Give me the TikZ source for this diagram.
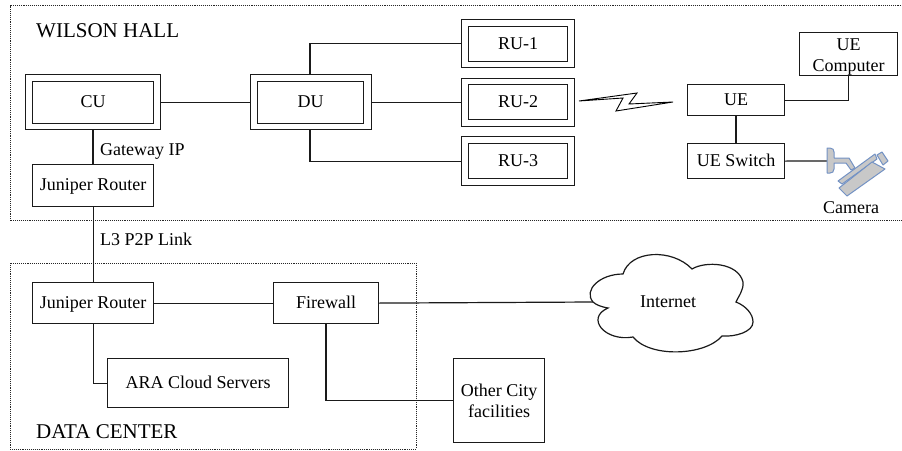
\documentclass[tikz,border=0pt]{standalone}
\usepackage{fontspec}
\setmainfont{Liberation Serif}
\definecolor{camfill}{HTML}{C8C8C8}
\definecolor{camline}{HTML}{7392C4}
\definecolor{linegray}{HTML}{1A1A1A}
\tikzset{
  mbox/.style={draw=linegray,line width=1.2pt,inner sep=0pt,align=center,font=\fontsize{18}{21}\selectfont,fill=white},
  box/.style={mbox,text height=11.5pt,text depth=0.5pt},
  outerbox/.style={draw=linegray,line width=1.2pt,inner sep=0pt,fill=white},
  link/.style={draw=linegray,line width=1.2pt},
  zone/.style={draw=black!85,line width=0.9pt,densely dotted},
  lab/.style={inner sep=0pt,font=\fontsize{18}{21}\selectfont,anchor=base west},
  zonelab/.style={inner sep=0pt,font=\fontsize{21}{24}\selectfont,anchor=base west},
  cam/.style={draw=camline,fill=camfill,line width=1pt,line join=round},
}
\newcommand{\bx}[7][box]{\node[#1,minimum width=#4pt-#2pt,minimum height=#5pt-#3pt,anchor=north west] (#6) at (#2,#3) {#7};}
\begin{document}
\begin{tikzpicture}[x=1pt,y=-1pt]
\useasboundingbox (0,0) rectangle (902,450);
\fill[white] (0,0) rectangle (902,450);
% zones
\draw[zone] (905,5.5) -- (10,5.5) -- (10,220.5) -- (905,220.5);
\draw[zone] (10,263) rectangle (416,449);
% outer frames
\bx[outerbox]{25}{74}{160}{129}{cuo}{}
\bx[outerbox]{250}{74}{371}{129}{duo}{}
\bx[outerbox]{461}{19}{574}{67}{ruao}{}
\bx[outerbox]{461}{78}{574}{126}{rubo}{}
\bx[outerbox]{461}{136}{574}{185}{ruco}{}
% inner boxes
\bx{32}{81}{153}{122.5}{cu}{CU}
\bx{257}{81}{363}{122.5}{du}{DU}
\bx{468}{25.5}{567}{60.5}{rua}{RU-1}
\bx{468}{84}{567}{119}{rub}{RU-2}
\bx{468}{143}{567}{178}{ruc}{RU-3}
\bx{687}{84}{784}{115}{ue}{UE}
\bx{687}{143}{784}{178}{uesw}{UE Switch}
\bx[mbox]{799}{32}{897}{74}{uec}{\rule{0pt}{18pt}UE\\Computer}
\bx{32}{164}{153}{205.5}{jra}{Juniper Router}
\bx{32}{282}{153}{323}{jrb}{Juniper Router}
\bx{273}{282}{378}{323}{fw}{Firewall}
\bx{107}{358}{288}{407}{ara}{ARA Cloud Servers}
\bx[mbox]{453}{358}{544}{442}{oth}{Other City\\facilities}
% cloud
\draw[link,fill=white] (593,302)
 .. controls (583,290) and (600,274) .. (623,274)
 .. controls (630,250) and (672,248) .. (692,269)
 .. controls (705,261) and (738,262) .. (743,282)
 .. controls (744,290) and (738,297) .. (736,302)
 .. controls (746,306) and (753,314) .. (753,322)
 .. controls (753,332) and (735,337) .. (722,336)
 .. controls (705,356) and (650,358) .. (633,337)
 .. controls (605,342) and (585,318) .. (608,308)
 .. controls (602,307) and (596,305) .. (593,302) -- cycle;
\node[inner sep=0pt,font=\fontsize{18}{21}\selectfont,anchor=base] (inet) at (668,307) {Internet};
\coordinate (cloudw) at (593,302);
% connectors
\draw[link] (cuo) -- (duo);
\draw[link,line width=1.6pt] (cuo.south -| cu) -- (jra);
\draw[link] (jra) -- (jrb);
\draw[link] (duo.north -| 310,0) |- (ruao.west);
\draw[link] (duo.east) -- (duo.east -| rubo.west);
\draw[link] (duo.south -| 310,0) |- (ruco.west);
\draw[link] (ue.east) -| (uec.south);
\draw[link,line width=1.8pt] (ue) -- (uesw);
\coordinate (cammount) at (828,161);
\draw[link] (uesw.east) -- (cammount);
\draw[link] (jrb) -- (fw);
\draw[link] (fw.east) -- (cloudw);
\draw[link] (jrb.south) |- (ara.west);
\draw[link] (fw.south -| 326,0) |- (oth.west);
% lightning
\draw[black,line width=0.9pt,fill=white,line join=miter] (579,101) -- (637,93) -- (629,104) -- (673,102) -- (616,111) -- (623,98) -- cycle;
% camera
\draw[cam] (827,148) -- (830,148) .. controls (833,148) and (834,150) .. (834,152) -- (834,158) -- (849,158) -- (855,168) -- (851,170) -- (846,163) -- (834,163) -- (834,169) .. controls (834,172) and (832,173) .. (830,173) -- (827,173) -- cycle;
\draw[cam] (838,181) -- (875,154) -- (877,159) -- (842,184) -- cycle;
\draw[cam] (877,155) -- (882,152) -- (888,161) -- (883,165) -- cycle;
\draw[cam] (839,188) -- (872,162) -- (885,169) -- (847,196) -- cycle;
% labels
\node[zonelab] (wh) at (36,37) {WILSON HALL};
\node[zonelab] (dc) at (36,438) {DATA CENTER};
\node[lab] (gw) at (100,155) {Gateway IP};
\node[lab] (l3) at (100,245) {L3 P2P Link};
\node[inner sep=0pt,font=\fontsize{18}{21}\selectfont,anchor=base] (camt) at (851,213) {Camera};
\end{tikzpicture}
\end{document}
